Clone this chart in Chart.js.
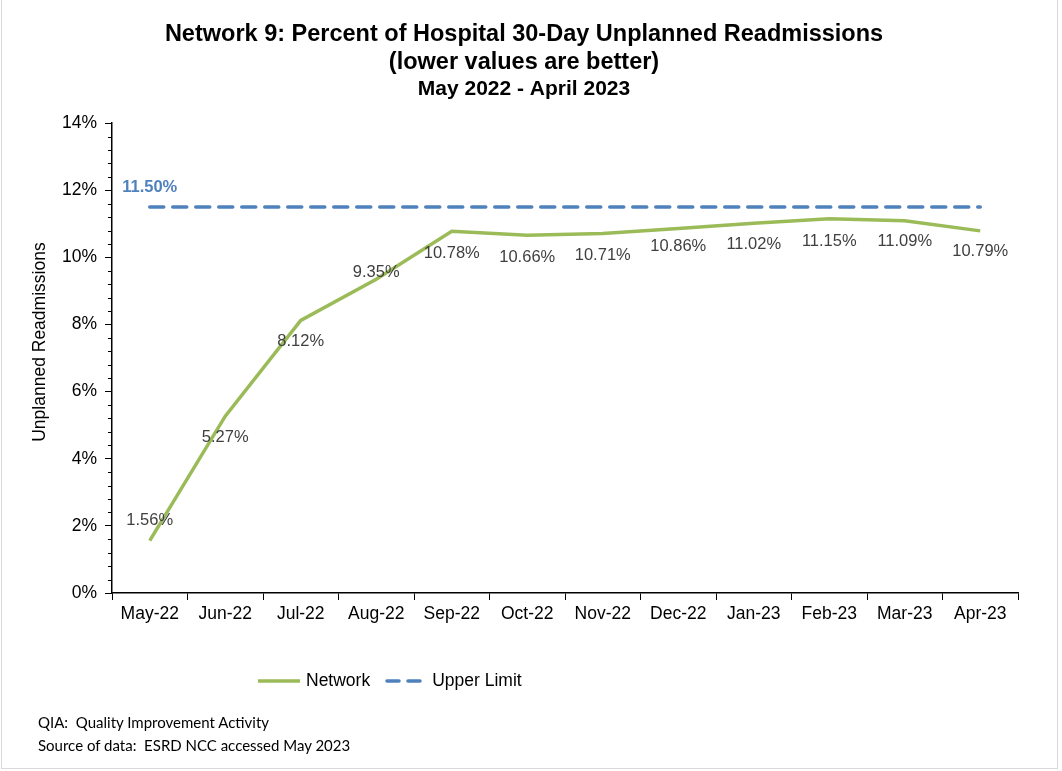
<!DOCTYPE html>
<html>
<head>
<meta charset="utf-8">
<script src="https://cdn.jsdelivr.net/npm/chart.js@4.4.0/dist/chart.umd.min.js"></script>
<style>
  html, body { margin: 0; padding: 0; background: #fff; }
  #wrap { position: relative; width: 1062px; height: 771px; }
  #frame { position: absolute; left: 1px; top: -1px; width: 1055px; height: 768px; border: 1px solid #d9d9d9; pointer-events: none; }
  #legenda { position: absolute; top: 670px; left: 258px; font-family: "Liberation Sans", Arial, sans-serif; font-size: 17.5px; color: #000; display: flex; align-items: center; }
  #legenda .item { display: flex; align-items: center; margin-right: 14px; }
  #legenda canvas { margin-right: 4px; }
  #rodape { position: absolute; left: 38px; top: 711px; font-family: Lato, "Open Sans", sans-serif; font-size: 15px; line-height: 23px; color: #000; }
</style>
</head>
<body>
<div id="wrap">
  <canvas id="grafico" width="1062" height="771"></canvas>
  <div id="legenda"></div>
  <div id="rodape">QIA:&nbsp; Quality Improvement Activity<br>Source of data:&nbsp; ESRD NCC accessed May 2023</div>
  <div id="frame"></div>
</div>
<script>
const meses = ["May-22", "Jun-22", "Jul-22", "Aug-22", "Sep-22", "Oct-22", "Nov-22", "Dec-22", "Jan-23", "Feb-23", "Mar-23", "Apr-23"];
const rede = [1.56, 5.27, 8.12, 9.35, 10.78, 10.66, 10.71, 10.86, 11.02, 11.15, 11.09, 10.79];
const limiteSuperior = [11.5, 11.5, 11.5, 11.5, 11.5, 11.5, 11.5, 11.5, 11.5, 11.5, 11.5, 11.5];
const ticksY = [0, 2, 4, 6, 8, 10, 12, 14];

// deslocamento vertical dos rótulos (px) em relação ao ponto
const posRotulos = [-20, 21, 21, -7, 22, 22, 22, 18, 21, 23, 21, 21];

const verde = "#9BBB59";
const azul = "#4F81BD";

// rótulos de dados + ticks menores
const pluginRotulos = {
  id: "rotulos",
  afterDatasetsDraw(chart) {
    const ctx = chart.ctx;
    ctx.save();
    ctx.textAlign = "center";
    ctx.textBaseline = "middle";

    const meta = chart.getDatasetMeta(0);
    ctx.font = "16.5px 'Liberation Sans', Arial, sans-serif";
    ctx.fillStyle = "#404040";
    meta.data.forEach((pt, i) => {
      ctx.fillText(rede[i].toFixed(2) + "%", pt.x, pt.y + posRotulos[i]);
    });

    const metaLim = chart.getDatasetMeta(1);
    const p0 = metaLim.data[0];
    ctx.font = "bold 16.5px 'Liberation Sans', Arial, sans-serif";
    ctx.fillStyle = azul;
    ctx.fillText(limiteSuperior[0].toFixed(2) + "%", p0.x, p0.y - 20);
    ctx.restore();
  },
  afterDraw(chart) {
    const ctx = chart.ctx;
    const y = chart.scales.y;
    ctx.save();
    ctx.strokeStyle = "#000";
    ctx.lineWidth = 1;
    for (let v = 0; v <= 14.001; v += 0.4) {
      if (Math.abs(v / 2 - Math.round(v / 2)) < 0.01) continue;
      const py = Math.round(y.getPixelForValue(v)) + 0.5;
      ctx.beginPath();
      ctx.moveTo(y.right - 4, py);
      ctx.lineTo(y.right, py);
      ctx.stroke();
    }
    // título do eixo Y (um pouco acima do centro, como no original)
    ctx.save();
    ctx.translate(40, (y.top + y.bottom) / 2 - 16);
    ctx.rotate(-Math.PI / 2);
    ctx.textAlign = "center";
    ctx.textBaseline = "middle";
    ctx.fillStyle = "#000";
    ctx.font = "17.5px 'Liberation Sans', Arial, sans-serif";
    ctx.fillText("Unplanned Readmissions", 0, 0);
    ctx.restore();
    ctx.restore();
  }
};

const fonte = "'Liberation Sans', Arial, sans-serif";

const grafico = new Chart(document.getElementById("grafico").getContext("2d"), {
  type: "line",
  data: {
    labels: meses,
    datasets: [
      {
        label: "Network",
        data: rede,
        borderColor: verde,
        backgroundColor: verde,
        borderWidth: 3.5,
        pointRadius: 0,
        tension: 0,
        fill: false
      },
      {
        label: "Upper Limit",
        data: limiteSuperior,
        borderColor: azul,
        backgroundColor: azul,
        borderWidth: 3.5,
        borderDash: [14, 9],
        borderCapStyle: "round",
        pointRadius: 0,
        fill: false
      }
    ]
  },
  options: {
    responsive: false,
    animation: false,
    layout: { padding: { left: 30, right: 44, top: 0, bottom: 138 } },
    plugins: {
      legend: { display: false },
      tooltip: { enabled: false },
      title: {
        display: true,
        text: ["Network 9: Percent of Hospital 30-Day Unplanned Readmissions", "(lower values are better)"],
        color: "#000",
        font: { family: fonte, size: 23.5, weight: "bold", lineHeight: 1.19 },
        padding: { top: 21, bottom: 0 }
      },
      subtitle: {
        display: true,
        text: "May 2022 - April 2023",
        color: "#000",
        font: { family: fonte, size: 21, weight: "bold", lineHeight: 1.2 },
        padding: { top: 0, bottom: 21 }
      }
    },
    scales: {
      x: {
        offset: true,
        grid: { offset: true, drawOnChartArea: false, drawTicks: true, tickLength: 7, color: "#000" },
        border: { color: "#000", width: 1.5 },
        ticks: { color: "#000", font: { family: fonte, size: 17.5 }, padding: 4, maxRotation: 0, autoSkip: false },
        afterFit: s => { s.height = 40; }
      },
      y: {
        min: 0,
        max: 14,
        afterBuildTicks: s => { s.ticks = ticksY.map(v => ({ value: v })); },
        grid: { drawOnChartArea: false, drawTicks: true, tickLength: 7, color: "#000" },
        border: { color: "#000", width: 1.5 },
        ticks: { color: "#000", font: { family: fonte, size: 17.5 }, padding: 8, callback: v => v + "%" },
        title: { display: false },
        afterFit: s => { s.width = 82; }
      }
    }
  },
  plugins: [pluginRotulos]
});

// legenda em HTML
const legenda = document.getElementById("legenda");
grafico.data.datasets.forEach(ds => {
  const item = document.createElement("div");
  item.className = "item";
  const amostra = document.createElement("canvas");
  amostra.width = 44;
  amostra.height = 10;
  const c = amostra.getContext("2d");
  c.strokeStyle = ds.borderColor;
  c.lineWidth = 3.5;
  c.lineCap = ds.borderDash ? "round" : "butt";
  if (ds.borderDash) c.setLineDash([12, 9]);
  c.beginPath();
  c.moveTo(ds.borderDash ? 3 : 0, 5);
  c.lineTo(42, 5);
  c.stroke();
  item.appendChild(amostra);
  const txt = document.createElement("span");
  txt.textContent = ds.label;
  item.appendChild(txt);
  legenda.appendChild(item);
});
</script>
</body>
</html>
